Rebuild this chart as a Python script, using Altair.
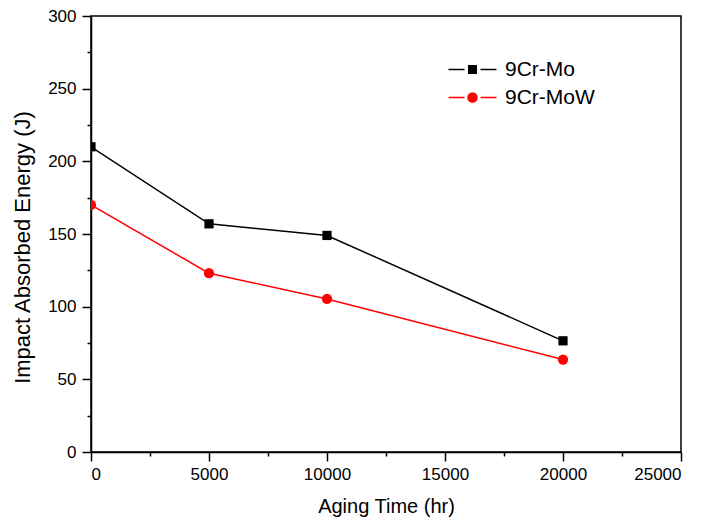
import altair as alt
import pandas as pd

# ---- data ----
times = [0, 5000, 10000, 20000]
series_names = ["9Cr-Mo", "9Cr-MoW"]
energy_mo = [210, 157, 149, 76.5]
energy_mow = [170, 123, 105.3, 63.6]

x_major = [0, 5000, 10000, 15000, 20000, 25000]
x_minor = [2500, 7500, 12500, 17500, 22500]
y_major = [0, 50, 100, 150, 200, 250, 300]
y_minor = [25, 75, 125, 175, 225, 275]

colors = ["#000000", "#ff0000"]
marker_shapes = ["square", "circle"]
marker_sizes = [85, 105]
legend_shapes = [
    "M-4.8,0H-1.6M-0.75,-0.75H0.75V0.75H-0.75ZM1.6,0H4.8",
    "M-4.8,0H-1.6M0.9,0A0.9,0.9,0,1,1,-0.9,0A0.9,0.9,0,1,1,0.9,0ZM1.6,0H4.8",
]

rows = []
for name, vals in zip(series_names, [energy_mo, energy_mow]):
    for t, v in zip(times, vals):
        rows.append({"series": name, "time": t, "energy": v})
df = pd.DataFrame(rows)

FONT = "Liberation Sans"
xs = alt.Scale(domain=[0, 25000], nice=False, zero=False)
ys = alt.Scale(domain=[0, 300], nice=False, zero=False)
cs = alt.Scale(domain=series_names, range=colors)

base = alt.Chart(df)

lines = base.mark_line(strokeWidth=1.5, clip=True).encode(
    x=alt.X("time:Q", scale=xs, axis=alt.Axis(
        orient="bottom", values=x_major, format="d", tickSize=9,
        labelPadding=5, title="Aging Time (hr)", titlePadding=14, titleFontSize=20)),
    y=alt.Y("energy:Q", scale=ys, axis=alt.Axis(
        orient="left", values=y_major, tickSize=9, labelPadding=6,
        title="Impact Absorbed Energy (J)", titlePadding=13, titleFontSize=22,
        titleY=231)),
    color=alt.Color("series:N", scale=cs, legend=None),
)

points = base.mark_point(filled=True, opacity=1, clip=True).encode(
    x=alt.X("time:Q", scale=xs, axis=alt.Axis(
        orient="bottom", values=x_minor, tickSize=4, labels=False,
        domain=False, title=None)),
    y=alt.Y("energy:Q", scale=ys, axis=alt.Axis(
        orient="left", values=y_minor, tickSize=4, labels=False,
        domain=False, title=None)),
    color=alt.Color("series:N", scale=cs, legend=None),
    shape=alt.Shape("series:N", scale=alt.Scale(domain=series_names, range=marker_shapes), legend=None),
    size=alt.Size("series:N", scale=alt.Scale(domain=series_names, range=marker_sizes), legend=None),
)

leg = alt.Legend(
    title=None, orient="none", legendX=371, legendY=43, padding=0,
    symbolSize=100, symbolStrokeWidth=1.5, labelOffset=22,
    labelFont=FONT, labelFontSize=21, labelColor="black", rowPadding=6,
)
legend_layer = base.transform_filter("false").mark_point(filled=True, opacity=1).encode(
    x=alt.X("time:Q", scale=xs, axis=None),
    y=alt.Y("energy:Q", scale=ys, axis=None),
    fill=alt.Fill("series:N", scale=cs, legend=leg),
    stroke=alt.Stroke("series:N", scale=cs, legend=leg),
    shape=alt.Shape("series:N", scale=alt.Scale(domain=series_names, range=legend_shapes), legend=leg),
)

chart = alt.layer(lines, points, legend_layer).resolve_axis(
    x="independent", y="independent"
).resolve_scale(
    color="independent", shape="independent", fill="independent",
    stroke="independent", size="independent"
).properties(
    width=590, height=436,
    autosize=alt.AutoSizeParams(type="none"),
    padding={"left": 83, "top": 8, "right": 22, "bottom": 66},
    background="white",
).configure_view(
    stroke="black", strokeWidth=1.5
).configure_axis(
    domainColor="black", domainWidth=1.5, tickColor="black", tickWidth=1.5,
    labelFont=FONT, labelFontSize=17, labelColor="black",
    titleFont=FONT, titleFontWeight="normal", titleColor="black",
    grid=False,
)

chart.save("out.html", embed_options={"renderer": "svg", "actions": False})
